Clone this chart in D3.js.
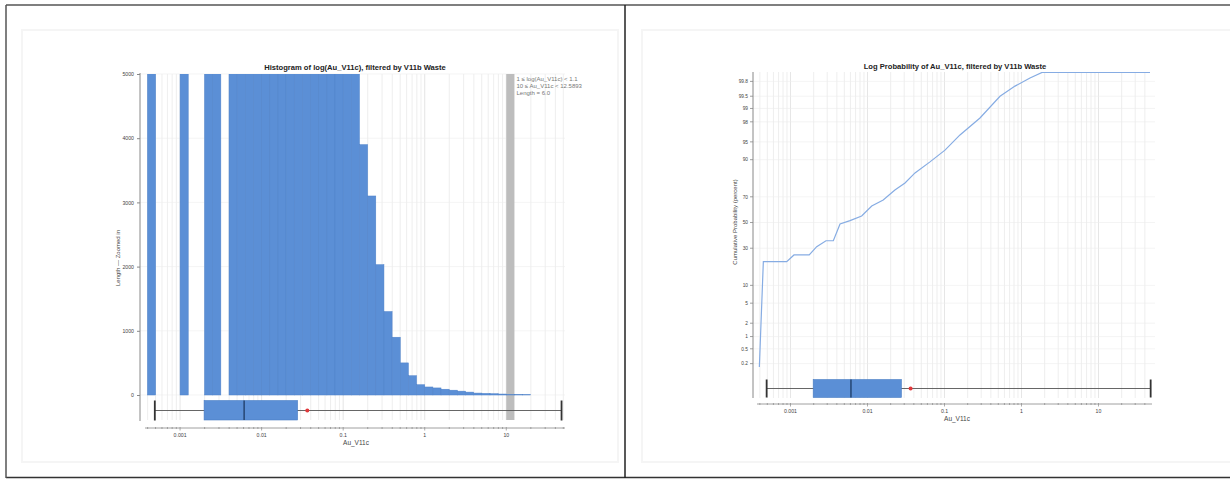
<!DOCTYPE html>
<html><head><meta charset="utf-8">
<script src="https://cdn.jsdelivr.net/npm/d3@7"></script>
<style>
html,body{margin:0;padding:0;background:#fff;}
svg{display:block;font-family:"Liberation Sans",Arial,sans-serif;}
</style></head>
<body>
<svg id="chart" width="1230" height="479"></svg>
<script>
// ---------- DATA ----------
// Histogram: lower edge of each log10 bin (width 0.1) and length per bin
const histBinLog = [-3.4,-3.0,-2.7,-2.6,-2.4,-2.3,-2.2,-2.1,-2.0,-1.9,-1.8,-1.7,-1.6,-1.5,-1.4,-1.3,-1.2,-1.1,-1.0,-0.9,
  -0.8,-0.7,-0.6,-0.5,-0.4,-0.3,-0.2,-0.1,0.0,0.1,0.2,0.3,0.4,0.5,0.6,0.7,0.8,0.9,1.0,1.1,1.2];
const histLength = [9000,7000,8000,8000,9000,9500,10000,11000,11500,12000,12000,11500,11000,10000,9000,8000,7500,6500,6000,5300,
  3900,3100,2030,1300,900,500,300,160,125,110,90,75,60,45,30,25,20,15,6,8,4];
const histYTicks = [0,1000,2000,3000,4000,5000];
const xTickValues = [0.001,0.01,0.1,1,10];
const xTickLabels = ["0.001","0.01","0.1","1","10"];
const selectedBin = {lo:10, hi:12.5893, lines:["1 \u2264 log(Au_V11c) < 1.1","10 \u2264 Au_V11c < 12.5893","Length = 6.0"]};
// Box plot statistics of Au_V11c
const boxStats = {min:0.00049, q1:0.00197, median:0.0061, q3:0.0276, mean:0.0363, max:47.6};
// Log probability curve: Au_V11c value vs cumulative percent
const cumValues  = [0.000394,0.000444,0.000893,0.00111,0.00175,0.00219,0.00289,0.0036,0.0044,0.00593,0.0084,0.01135,0.016,
  0.0227,0.0307,0.0414,0.0648,0.1015,0.159,0.289,0.526,0.824,1.29,1.85,46.7];
const cumPercent = [0.16,21.2,21.2,25.4,25.4,31.1,35.5,35.5,48.8,51.5,55.3,63.2,67.7,
  74.6,79,84.4,89.2,93,96.3,98.35,99.5,99.73,99.84,99.89,99.89];
const probTicks = [0.2,0.5,1,2,5,10,30,50,70,90,95,98,99,99.5,99.8];

// ---------- HELPERS ----------
function probit(p){
 const a=[-3.969683028665376e+01,2.209460984245205e+02,-2.759285104469687e+02,1.383577518672690e+02,-3.066479806614716e+01,2.506628277459239e+00];
 const b=[-5.447609879822406e+01,1.615858368580409e+02,-1.556989798598866e+02,6.680131188771972e+01,-1.328068155288572e+01];
 const c=[-7.784894002430293e-03,-3.223964580411365e-01,-2.400758277161838e+00,-2.549732539343734e+00,4.374664141464968e+00,2.938163982698783e+00];
 const d=[7.784695709041462e-03,3.224671290700398e-01,2.445134137142996e+00,3.754408661907416e+00];
 const pl=0.02425, ph=1-pl; let q,r;
 if(p<pl){q=Math.sqrt(-2*Math.log(p));return (((((c[0]*q+c[1])*q+c[2])*q+c[3])*q+c[4])*q+c[5])/((((d[0]*q+d[1])*q+d[2])*q+d[3])*q+1);}
 if(p<=ph){q=p-0.5;r=q*q;return (((((a[0]*r+a[1])*r+a[2])*r+a[3])*r+a[4])*r+a[5])*q/(((((b[0]*r+b[1])*r+b[2])*r+b[3])*r+b[4])*r+1);}
 q=Math.sqrt(-2*Math.log(1-p));return -(((((c[0]*q+c[1])*q+c[2])*q+c[3])*q+c[4])*q+c[5])/((((d[0]*q+d[1])*q+d[2])*q+d[3])*q+1);
}
function minorTicks(scale){
  const [lo,hi]=scale.domain(); const out=[];
  for(let e=-5;e<=3;e++) for(let m=1;m<=9;m++){const v=m*Math.pow(10,e); if(v>=lo&&v<=hi) out.push({v,major:m===1});}
  return out;
}
const BLUE="#5b8fd6", BLUE_EDGE="#4f82c9", GRID="#e6e6e6", GRID_MAJ="#dadada", AXIS="#888", TXT="#444";

const svg=d3.select("#chart");

// ---------- PAGE FRAME ----------
svg.append("rect").attr("x",22).attr("y",30).attr("width",596).attr("height",432).attr("fill","none").attr("stroke","#f5f5f5").attr("stroke-width",2);
svg.append("rect").attr("x",642).attr("y",30).attr("width",590).attr("height",432).attr("fill","none").attr("stroke","#f5f5f5").attr("stroke-width",2);
svg.append("line").attr("x1",6).attr("x2",1230).attr("y1",5).attr("y2",5).attr("stroke","#555").attr("stroke-width",1.5);
svg.append("line").attr("x1",6).attr("x2",1230).attr("y1",477.5).attr("y2",477.5).attr("stroke","#333").attr("stroke-width",1.5);
svg.append("line").attr("x1",6).attr("x2",6).attr("y1",5).attr("y2",478).attr("stroke","#555").attr("stroke-width",1.5);
svg.append("line").attr("x1",625).attr("x2",625).attr("y1",5).attr("y2",478).attr("stroke","#222").attr("stroke-width",1.5);

// ---------- LEFT: HISTOGRAM ----------
{
  const L=140, R=565, T=74, B=395, boxY=410.5, axY=428;
  const x=d3.scaleLog().domain([Math.pow(10,-3.43),Math.pow(10,1.72)]).range([145,565]);
  const y=d3.scaleLinear().domain([0,5000]).range([B,T]);
  const g=svg.append("g");
  minorTicks(x).forEach(t=>{
    g.append("line").attr("x1",x(t.v)).attr("x2",x(t.v)).attr("y1",T).attr("y2",420)
      .attr("stroke",t.major?GRID_MAJ:GRID).attr("stroke-width",0.7);
  });
  histYTicks.forEach(v=>{
    g.append("line").attr("x1",L).attr("x2",R).attr("y1",y(v)).attr("y2",y(v)).attr("stroke","#ececec").attr("stroke-width",0.6);
  });
  g.append("rect").attr("x",x(selectedBin.lo)).attr("width",x(selectedBin.hi)-x(selectedBin.lo))
    .attr("y",T).attr("height",420-T).attr("fill","#bdbdbd");
  svg.append("clipPath").attr("id","hclip").append("rect").attr("x",L).attr("y",T).attr("width",R-L).attr("height",B-T+1);
  g.append("g").attr("clip-path","url(#hclip)").selectAll("rect").data(histBinLog).join("rect")
    .attr("x",d=>x(Math.pow(10,d))).attr("width",d=>x(Math.pow(10,d+0.1))-x(Math.pow(10,d)))
    .attr("y",(d,i)=>y(Math.min(histLength[i],5200))).attr("height",(d,i)=>B-y(Math.min(histLength[i],5200)))
    .attr("fill",BLUE).attr("stroke",BLUE_EDGE).attr("stroke-width",0.5);
  selectedBin.lines.forEach((s,i)=>{
    g.append("text").attr("x",516.5).attr("y",80.5+i*7.2).attr("font-size",6).attr("fill","#777").text(s);
  });
  const ya=g.append("g").attr("transform",`translate(${L},0)`).call(d3.axisLeft(y).tickValues(histYTicks).tickSize(3).tickFormat(d3.format("d")));
  ya.select(".domain").remove();
  ya.selectAll("line").attr("stroke",AXIS);
  ya.selectAll("text").attr("font-size",5.2).attr("fill",TXT).attr("font-family","Liberation Sans, Arial");
  g.append("line").attr("x1",L).attr("x2",L).attr("y1",T-1).attr("y2",421).attr("stroke",AXIS).attr("stroke-width",1);
  const bx=svg.append("g");
  bx.append("line").attr("x1",x(boxStats.min)).attr("x2",x(boxStats.max)).attr("y1",boxY).attr("y2",boxY).attr("stroke","#555").attr("stroke-width",0.9);
  [boxStats.min,boxStats.max].forEach(v=>bx.append("line").attr("x1",x(v)).attr("x2",x(v)).attr("y1",boxY-10).attr("y2",boxY+10).attr("stroke","#333").attr("stroke-width",1.8));
  bx.append("rect").attr("x",x(boxStats.q1)).attr("width",x(boxStats.q3)-x(boxStats.q1)).attr("y",boxY-10).attr("height",19.5).attr("fill",BLUE).attr("stroke","#4a7dc4").attr("stroke-width",0.6);
  bx.append("line").attr("x1",x(boxStats.median)).attr("x2",x(boxStats.median)).attr("y1",boxY-10).attr("y2",boxY+9.5).attr("stroke","#1d3a64").attr("stroke-width",1.3);
  bx.append("circle").attr("cx",x(boxStats.mean)).attr("cy",boxY).attr("r",2).attr("fill","#e0383b");
  const xa=svg.append("g").attr("transform",`translate(0,${axY})`);
  xa.append("line").attr("x1",145).attr("x2",565).attr("y1",0).attr("y2",0).attr("stroke",AXIS).attr("stroke-width",0.8);
  minorTicks(x).forEach(t=>xa.append("line").attr("x1",x(t.v)).attr("x2",x(t.v)).attr("y1",-1).attr("y2",t.major?2.5:1).attr("stroke",AXIS).attr("stroke-width",0.7));
  xa.selectAll("text.t").data(xTickValues).join("text").attr("class","t").attr("x",d=>x(d)).attr("y",8.5)
    .attr("text-anchor","middle").attr("font-size",5.2).attr("fill",TXT).text((d,i)=>xTickLabels[i]);
  svg.append("text").attr("x",356).attr("y",445).attr("text-anchor","middle").attr("font-size",6.5).attr("fill",TXT).text("Au_V11c");
  svg.append("text").attr("transform","translate(119.5,258) rotate(-90)").attr("text-anchor","middle").attr("font-size",6).attr("fill",TXT).text("Length \u2014 Zoomed in");
  svg.append("text").attr("x",355).attr("y",69.5).attr("text-anchor","middle").attr("font-size",7.6).attr("font-weight","bold").attr("fill","#222")
    .text("Histogram of log(Au_V11c), filtered by V11b Waste");
}

// ---------- RIGHT: LOG PROBABILITY ----------
{
  const L=753, R=1155, T=72, B=400, boxY=388.5, axY=404;
  const x=d3.scaleLog().domain([Math.pow(10,-3.435),Math.pow(10,1.695)]).range([757,1152]);
  const y=d3.scaleLinear().domain([-3.62,3.07]).range([B,T]);
  const yp=p=>y(probit(p/100));
  const g=svg.append("g");
  minorTicks(x).forEach(t=>{
    g.append("line").attr("x1",x(t.v)).attr("x2",x(t.v)).attr("y1",T).attr("y2",398)
      .attr("stroke",t.major?GRID_MAJ:GRID).attr("stroke-width",0.7);
  });
  probTicks.forEach(p=>{
    g.append("line").attr("x1",L).attr("x2",R).attr("y1",yp(p)).attr("y2",yp(p)).attr("stroke","#ececec").attr("stroke-width",0.6);
  });
  svg.append("clipPath").attr("id","pclip").append("rect").attr("x",L).attr("y",T).attr("width",R-L).attr("height",B-T);
  const line=d3.line().x(d=>x(d[0])).y(d=>yp(d[1]));
  g.append("path").attr("clip-path","url(#pclip)").datum(cumValues.map((v,i)=>[v,cumPercent[i]])).attr("d",line)
    .attr("fill","none").attr("stroke","#86ace3").attr("stroke-width",1.2);
  g.append("line").attr("x1",L).attr("x2",L).attr("y1",T).attr("y2",398).attr("stroke",AXIS).attr("stroke-width",1);
  probTicks.forEach(p=>{
    g.append("line").attr("x1",L-3).attr("x2",L).attr("y1",yp(p)).attr("y2",yp(p)).attr("stroke",AXIS).attr("stroke-width",0.8);
    g.append("text").attr("x",L-5).attr("y",yp(p)+1.7).attr("text-anchor","end").attr("font-size",4.8).attr("fill",TXT).text(String(p));
  });
  const bx=svg.append("g");
  bx.append("line").attr("x1",x(boxStats.min)).attr("x2",x(boxStats.max)).attr("y1",boxY).attr("y2",boxY).attr("stroke","#555").attr("stroke-width",0.9);
  [boxStats.min,boxStats.max].forEach(v=>bx.append("line").attr("x1",x(v)).attr("x2",x(v)).attr("y1",boxY-9).attr("y2",boxY+9).attr("stroke","#333").attr("stroke-width",1.8));
  bx.append("rect").attr("x",x(boxStats.q1)).attr("width",x(boxStats.q3)-x(boxStats.q1)).attr("y",boxY-9).attr("height",18).attr("fill",BLUE).attr("stroke","#4a7dc4").attr("stroke-width",0.6);
  bx.append("line").attr("x1",x(boxStats.median)).attr("x2",x(boxStats.median)).attr("y1",boxY-9).attr("y2",boxY+9).attr("stroke","#1d3a64").attr("stroke-width",1.3);
  bx.append("circle").attr("cx",x(boxStats.mean)).attr("cy",boxY).attr("r",2).attr("fill","#e0383b");
  const xa=svg.append("g").attr("transform",`translate(0,${axY})`);
  xa.append("line").attr("x1",757).attr("x2",1152).attr("y1",0).attr("y2",0).attr("stroke",AXIS).attr("stroke-width",0.8);
  minorTicks(x).forEach(t=>xa.append("line").attr("x1",x(t.v)).attr("x2",x(t.v)).attr("y1",-1).attr("y2",t.major?2.5:1).attr("stroke",AXIS).attr("stroke-width",0.7));
  xa.selectAll("text.t").data(xTickValues).join("text").attr("class","t").attr("x",d=>x(d)).attr("y",8.5)
    .attr("text-anchor","middle").attr("font-size",5.2).attr("fill",TXT).text((d,i)=>xTickLabels[i]);
  svg.append("text").attr("x",957).attr("y",421).attr("text-anchor","middle").attr("font-size",6.5).attr("fill",TXT).text("Au_V11c");
  svg.append("text").attr("transform","translate(737,222) rotate(-90)").attr("text-anchor","middle").attr("font-size",6).attr("fill",TXT).text("Cumulative Probability (percent)");
  svg.append("text").attr("x",955).attr("y",68.5).attr("text-anchor","middle").attr("font-size",7.6).attr("font-weight","bold").attr("fill","#222")
    .text("Log Probability of Au_V11c, filtered by V11b Waste");
}
</script>
</body></html>
